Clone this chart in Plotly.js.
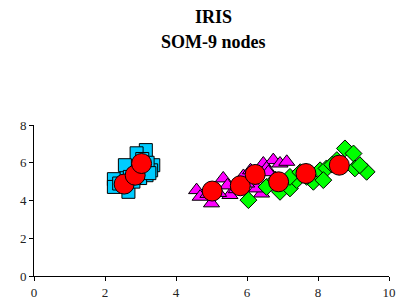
<!DOCTYPE html>
<html>
<head>
<meta charset="utf-8">
<script src="https://cdn.plot.ly/plotly-3.0.1.min.js"></script>
<style>html,body{margin:0;padding:0;background:#fff;}#chart{width:396px;height:304px;}</style>
</head>
<body>
<div id="chart"></div>
<script>
// Class 1 (squares)
const setosaX = [2.25, 2.25, 2.66, 3.15, 2.89, 3.36, 3.30, 3.17, 2.99, 2.61, 2.56, 2.40, 2.80, 3.05, 3.20, 2.95, 2.70, 3.25];
const setosaY = [5.13, 4.72, 4.46, 6.67, 6.50, 5.87, 5.60, 5.34, 5.19, 5.52, 5.87, 4.90, 5.00, 6.20, 6.00, 5.70, 5.25, 5.45];
// Class 2 (triangles)
const versiX = [4.58, 4.68, 5.00, 5.33, 5.52, 6.46, 6.74, 6.93, 6.41, 6.27, 7.12, 5.99, 5.20, 5.70, 5.90, 6.10, 6.55, 5.45, 6.60, 4.90];
const versiY = [4.55, 4.20, 3.85, 5.17, 4.29, 5.96, 6.14, 5.96, 4.37, 4.64, 6.05, 4.90, 4.40, 4.60, 5.30, 5.60, 5.70, 4.80, 5.50, 4.35];
// Class 3 (diamonds)
const virgX = [6.04, 6.55, 6.93, 7.21, 7.40, 7.87, 8.06, 8.24, 8.53, 8.76, 9.00, 9.04, 9.37, 9.18, 7.21, 7.68, 8.15, 6.80, 7.50, 8.40];
const virgY = [4.02, 4.72, 4.46, 4.64, 5.08, 4.99, 5.60, 5.70, 6.14, 6.76, 6.49, 5.70, 5.52, 5.87, 5.25, 5.25, 5.08, 5.10, 5.50, 5.90];
// SOM nodes
const nodeX = [2.54, 2.85, 3.03, 5.02, 5.81, 6.23, 6.89, 7.66, 8.60];
const nodeY = [4.87, 5.34, 5.96, 4.50, 4.78, 5.38, 4.99, 5.43, 5.87];

const xTicks = [0, 2, 4, 6, 8, 10];
const yTicks = [0, 2, 4, 6, 8];
const titleLines = ['IRIS', 'SOM-9 nodes'];

const line = {color: '#000', width: 1};
const traces = [
  {x: setosaX, y: setosaY, mode: 'markers', type: 'scatter',
   marker: {symbol: 'square', size: 13, color: '#00CCFF', line: line}},
  {x: versiX, y: versiY, mode: 'markers', type: 'scatter',
   marker: {symbol: 'triangle-up', size: 14, color: '#FF00FF', line: line}},
  {x: virgX, y: virgY, mode: 'markers', type: 'scatter',
   marker: {symbol: 'diamond', size: 13, color: '#00FF00', line: line}},
  {x: nodeX, y: nodeY, mode: 'markers', type: 'scatter',
   marker: {symbol: 'circle', size: 20, color: '#FF0000', line: line}}
];

const serif = 'Liberation Serif, Times New Roman, serif';
const axFont = {family: serif, size: 13, color: '#222'};
const titleFont = {family: serif, size: 18, color: '#000'};
// plot area: top 125px, bottom 276px => paper height 151px
const plotTop = 125, plotH = 151;
const titleCenters = [17, 42];
const annotations = titleLines.map((t, i) => ({
  text: '<b>' + t + '</b>', xref: 'paper', yref: 'paper', x: 0.505,
  y: (plotTop + plotH - titleCenters[i]) / plotH, xanchor: 'center', yanchor: 'middle',
  showarrow: false, font: titleFont
}));

const layout = {
  width: 396, height: 304,
  margin: {l: 34, r: 7, t: 125, b: 28},
  paper_bgcolor: '#fff', plot_bgcolor: '#fff',
  showlegend: false,
  annotations: annotations,
  xaxis: {range: [0, 10], tickvals: xTicks, ticktext: xTicks.map(String), showgrid: false, zeroline: false,
          showline: true, linecolor: '#000', linewidth: 1, ticks: 'outside', ticklen: 4, tickcolor: '#000',
          tickfont: axFont, fixedrange: true},
  yaxis: {range: [0, 8], tickvals: yTicks, ticktext: yTicks.map(String), showgrid: false, zeroline: false,
          showline: true, linecolor: '#000', linewidth: 1, ticks: 'outside', ticklen: 4, tickcolor: '#000',
          tickfont: axFont, fixedrange: true}
};
Plotly.newPlot('chart', traces, layout, {displayModeBar: false, staticPlot: true});
</script>
</body>
</html>
